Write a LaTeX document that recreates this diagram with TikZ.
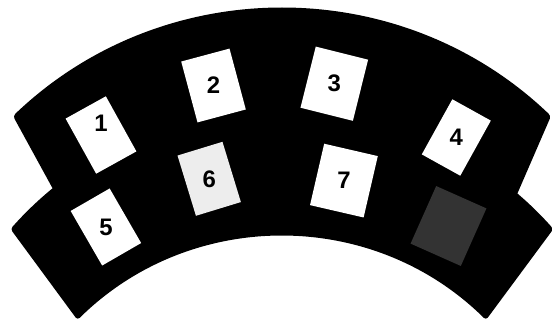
\documentclass[tikz,border=0pt]{standalone}
\usepackage{fontspec}
\setmainfont{Liberation Sans}
\definecolor{cardlight}{gray}{0.93}
\definecolor{carddark}{gray}{0.2}
\begin{document}
\begin{tikzpicture}[x=1bp,y=1bp,
  card/.style={inner sep=0,minimum height=63bp},
  digit/.style={font=\fontsize{24}{24}\selectfont\bfseries,text=black}]
\useasboundingbox (0,0) rectangle (552,322);
% lower band, then upper band on top of it
\fill[rounded corners=3bp] (10.5,93) arc[start angle=138.4,end angle=41.6,radius=363]
  -- (486,2) arc[start angle=45.3,end angle=134.7,radius=290.4] -- cycle;
\fill[rounded corners=3bp] (13,206) arc[start angle=133.75,end angle=46.25,radius=389]
  -- (517.6,129) -- (500,90) -- (72,90) -- (54.6,130) -- cycle;
% cards
\foreach \n/\x/\y/\a/\w/\c in {1/101/187/29/46/white,2/213.5/236.5/15/50/white,
  3/334.3/238.3/-14/54/white,4/456.3/184.5/-29/44/white,5/105.9/95/30/45/white,
  6/209.2/143.2/17/47/cardlight,7/343.9/141.4/-13/55/white,8/448.5/96/-24/55/carddark}
  {\node[card,fill=\c,minimum width=\w bp,rotate=\a] (c\n) at (\x,\y) {};}
\node[digit] (n1) at ([yshift=12bp]c1.center) {1};
\foreach \n in {2,...,7}{\node[digit] (n\n) at (c\n) {\n};}
\end{tikzpicture}
\end{document}
